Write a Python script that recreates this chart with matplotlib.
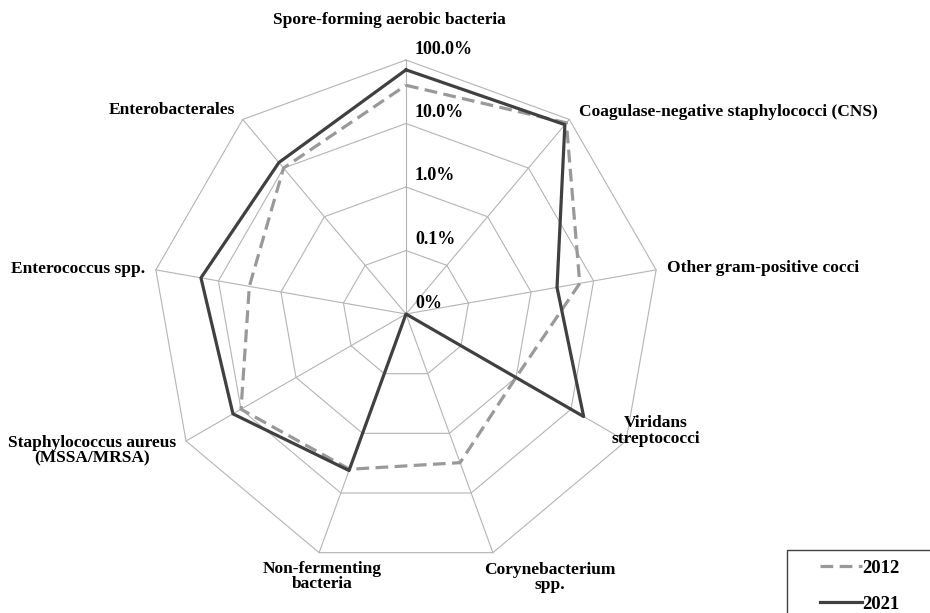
import numpy as np
import matplotlib.pyplot as plt
from matplotlib.lines import Line2D
from matplotlib.patches import Rectangle

categories = [
    "Spore-forming aerobic bacteria",
    "Coagulase-negative staphylococci (CNS)",
    "Other gram-positive cocci",
    "Viridans\nstreptococci",
    "Corynebacterium\nspp.",
    "Non-fermenting\nbacteria",
    "Staphylococcus aureus\n(MSSA/MRSA)",
    "Enterococcus spp.",
    "Enterobacterales",
]
# percentages (0 plotted at the centre of the log axis)
values_2012 = [40.0, 85.0, 6.0, 1.0, 3.1, 4.0, 10.0, 3.2, 10.0]
values_2021 = [70.0, 78.0, 2.6, 17.0, 0.0, 4.2, 14.0, 19.0, 13.0]
ring_values = [0.01, 0.1, 1, 10, 100]
ring_labels = ["0%", "0.1%", "1.0%", "10.0%", "100.0%"]

# label placement: offset from outer vertex (pixels), alignment
label_pos = [
    ((-17, 40), "center", "center"),
    ((10, 7), "left", "center"),
    ((11, 2), "left", "center"),
    ((30, 10), "center", "center"),
    ((57, -25), "center", "center"),
    ((3, -24), "center", "center"),
    ((-94, -10), "center", "center"),
    ((-11, 1), "right", "center"),
    ((-8, 9), "right", "center"),
]

FONT = "Liberation Serif"
plt.rcParams["font.family"] = FONT
plt.rcParams["font.weight"] = "bold"

n = len(categories)
theta = np.linspace(0, 2 * np.pi, n, endpoint=False)
theta_c = np.append(theta, theta[0])


def closed(v):
    v = np.clip(np.asarray(v, dtype=float), ring_values[0], None)
    return np.append(v, v[0])


fig = plt.figure(figsize=(9.3, 6.13), dpi=100)
ax = fig.add_axes([152 / 930, 45 / 613, 508 / 930, 508 / 613], projection="polar")
ax.set_theta_zero_location("N")
ax.set_theta_direction(-1)
ax.set_rscale("log")
ax.set_rlim(ring_values[0], ring_values[-1])
ax.grid(False)
ax.spines["polar"].set_visible(False)
ax.set_xticks([])
ax.set_yticks([])

grid_kw = dict(color="#b4b4b4", lw=0.8, clip_on=False, zorder=1)
for rv in ring_values[1:]:
    ax.plot(theta_c, [rv] * (n + 1), **grid_kw)
for t in theta:
    ax.plot([t, t], [ring_values[0], ring_values[-1]], **grid_kw)

ax.plot(theta_c, closed(values_2012), color="#999999", lw=2.3,
        dashes=(4, 2), clip_on=False, zorder=3)
ax.plot(theta_c, closed(values_2021), color="#404040", lw=2.3,
        clip_on=False, zorder=4)

for rv, lab in zip(ring_values, ring_labels):
    ax.annotate(lab, xy=(0, rv), xytext=(9, 11), textcoords="offset pixels",
                ha="left", va="center", fontsize=13, fontweight="bold")

for t, lab, (off, ha, va) in zip(theta, categories, label_pos):
    ax.annotate(lab, xy=(t, ring_values[-1]), xytext=off,
                textcoords="offset pixels", ha=ha, va=va,
                fontsize=12.5, fontweight="bold", linespacing=0.95,
                annotation_clip=False)

# legend box (runs off the bottom/right edge like the original)
fig.patches.append(Rectangle((787 / 930, -0.1), 0.3, 0.1 + 63 / 613,
                             transform=fig.transFigure, fill=False,
                             edgecolor="#404040", lw=1.0))
handles = [
    Line2D([], [], color="#999999", lw=2.3, dashes=(4, 2)),
    Line2D([], [], color="#404040", lw=2.3),
]
fig.legend(handles, ["2012", "2021"], loc="upper left",
           bbox_to_anchor=(803 / 930, 1 - 543 / 613), frameon=False,
           handlelength=2.25, handletextpad=0.0, labelspacing=1.0,
           prop={"family": FONT, "weight": "bold", "size": 13.5})

fig.savefig("out.png", dpi=100)
